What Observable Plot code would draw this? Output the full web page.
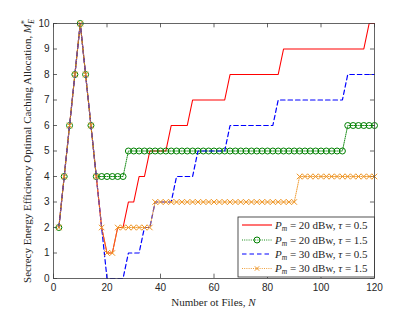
<!DOCTYPE html>
<html>
<head>
<meta charset="utf-8">
<script src="https://cdn.jsdelivr.net/npm/d3@7"></script>
<script src="https://cdn.jsdelivr.net/npm/@observablehq/plot@0.6"></script>
<style>
  html, body { margin: 0; padding: 0; background: white; }
</style>
</head>
<body>
<div id="chart"></div>
<script>
// Number of files, N
const N = [2,4,6,8,10,12,14,16,18,20,22,24,26,28,30,32,34,36,38,40,42,44,46,48,50,52,54,56,58,60,
           62,64,66,68,70,72,74,76,78,80,82,84,86,88,90,92,94,96,98,100,102,104,106,108,110,112,114,116,118,120];

// Pm = 20 dBw, tau = 0.5
const red    = [2,4,6,8,10,8,6,4, 2,1,1,2,2,3,3,4,4, 5,5,5,5, 6,6,6,6, 7,7,7,7,7,7,7,
                8,8,8,8,8,8,8,8,8,8, 9,9,9,9,9,9,9,9,9,9,9,9,9,9,9,9, 10,10];
// Pm = 20 dBw, tau = 1.5
const green  = [2,4,6,8,10,8,6, 4,4,4,4,4,4,
                5,5,5,5,5,5,5,5,5,5,5,5,5,5,5,5,5,5,5,5,5,5,5,5,5,5,5,5,5,5,5,5,5,5,5,5,5,5,5,5,5,
                6,6,6,6,6,6];
// Pm = 30 dBw, tau = 0.5
const blue   = [2,4,6,8,10,8,6,4, 2, 0,0,0,0, 1,1,1, 2,2, 3,3,3,3, 4,4,4,4, 5,5,5,5,5,5,
                6,6,6,6,6,6,6,6,6, 7,7,7,7,7,7,7,7,7,7,7,7,7, 8,8,8,8,8,8];
// Pm = 30 dBw, tau = 1.5
const orange = [2,4,6,8,10,8,6,4, 2, 1,1, 2,2,2,2,2,2,2,
                3,3,3,3,3,3,3,3,3,3,3,3,3,3,3,3,3,3,3,3,3,3,3,3,3,3,3,
                4,4,4,4,4,4,4,4,4,4,4,4,4,4,4];

const xTicks = [0,20,40,60,80,100,120];
const yTicks = [0,1,2,3,4,5,6,7,8,9,10];

const seriesColors = ["#ff0000", "#008000", "#0000ff", "#ee9422"];
const legendPower = ["20", "20", "30", "30"];
const legendTau = ["0.5", "1.5", "0.5", "1.5"];

const toRows = (vals) => N.map((n, i) => ({N: n, v: vals[i]}));
const rRed = toRows(red), rGreen = toRows(green), rBlue = toRows(blue), rOrange = toRows(orange);

const axisColor = "#404040";

const svg = Plot.plot({
  width: 415,
  height: 312,
  marginLeft: 53,
  marginRight: 41,
  marginTop: 23,
  marginBottom: 34,
  style: {fontFamily: "'Liberation Sans', Arial, sans-serif", fontSize: "10px", color: "#262626", background: "white"},
  x: {domain: [0, 120]},
  y: {domain: [0, 10]},
  marks: [
    Plot.axisX(xTicks, {tickSize: 0, tickPadding: 5, label: null, fontSize: 10}),
    Plot.axisY(yTicks, {tickSize: 0, tickPadding: 4, label: null, fontSize: 10}),
    Plot.ruleX(xTicks, {x: d => d, y1: 0, y2: 0.17, stroke: axisColor, strokeWidth: 0.8}),
    Plot.ruleX(xTicks, {x: d => d, y1: 10, y2: 9.83, stroke: axisColor, strokeWidth: 0.8}),
    Plot.ruleY(yTicks, {y: d => d, x1: 0, x2: 1.5, stroke: axisColor, strokeWidth: 0.8}),
    Plot.ruleY(yTicks, {y: d => d, x1: 120, x2: 118.5, stroke: axisColor, strokeWidth: 0.8}),
    Plot.line(rRed, {x: "N", y: "v", stroke: seriesColors[0], strokeWidth: 1.1}),
    Plot.line(rGreen, {x: "N", y: "v", stroke: seriesColors[1], strokeWidth: 0.9, strokeDasharray: "1,1.2"}),
    Plot.dot(rGreen, {x: "N", y: "v", r: 3, stroke: seriesColors[1], fill: "none", strokeWidth: 1}),
    Plot.line(rBlue, {x: "N", y: "v", stroke: seriesColors[2], strokeWidth: 1.2, strokeDasharray: "4.5,3"}),
    Plot.line(rOrange, {x: "N", y: "v", stroke: seriesColors[3], strokeWidth: 0.9, strokeDasharray: "1,1.2"}),
    Plot.dot(rOrange, {x: "N", y: "v", r: 2.6, symbol: "times", stroke: seriesColors[3], strokeWidth: 1}),
    Plot.frame({stroke: axisColor, strokeWidth: 0.8})
  ]
});

document.getElementById("chart").appendChild(svg);

const s = d3.select(svg);
const serif = "'Liberation Serif', 'DejaVu Serif', serif";

// x label
const xl = s.append("text")
  .attr("x", 213.5).attr("y", 305.5)
  .attr("text-anchor", "middle")
  .attr("font-family", serif).attr("font-size", 11).attr("fill", "#262626");
xl.append("tspan").text("Number ot Files, ");
xl.append("tspan").attr("font-style", "italic").text("N");

// y label
const yl = s.append("text")
  .attr("transform", "translate(31,151) rotate(-90)")
  .attr("text-anchor", "middle")
  .attr("font-family", serif).attr("font-size", 11).attr("fill", "#262626");
yl.append("tspan").text("Secrecy Energy Efficiency Optimal Caching Allocation, ");
yl.append("tspan").attr("font-style", "italic").text("M");
yl.append("tspan").attr("font-size", 7.5).attr("dy", -4).text("*");
yl.append("tspan").attr("font-size", 7.5).attr("font-style", "italic").attr("dx", -3.5).attr("dy", 7).text("E");

// legend
const lg = s.append("g").attr("text-anchor", "start");
const lx0 = 238, ly0 = 217, lw = 136.5, lh = 60;
lg.append("rect").attr("x", lx0).attr("y", ly0).attr("width", lw).attr("height", lh)
  .attr("fill", "white").attr("stroke", "#262626").attr("stroke-width", 0.8);
const rowY = [225, 240, 254, 268.5];
const dashes = [null, "1,1.2", "4.5,3", "1,1.2"];
const widths = [1.1, 0.9, 1.2, 0.9];
legendPower.forEach((p, i) => {
  const y = rowY[i];
  lg.append("line").attr("x1", 242).attr("x2", 272).attr("y1", y).attr("y2", y)
    .attr("stroke", seriesColors[i]).attr("stroke-width", widths[i])
    .attr("stroke-dasharray", dashes[i]);
  if (i === 1) {
    lg.append("circle").attr("cx", 257).attr("cy", y).attr("r", 3)
      .attr("fill", "none").attr("stroke", seriesColors[i]).attr("stroke-width", 1);
  }
  if (i === 3) {
    const r = 2.2;
    lg.append("path").attr("d", `M${257-r},${y-r}L${257+r},${y+r}M${257-r},${y+r}L${257+r},${y-r}`)
      .attr("stroke", seriesColors[i]).attr("stroke-width", 1);
  }
  const t = lg.append("text").attr("x", 275).attr("y", y + 3.8)
    .attr("text-anchor", "start")
    .attr("font-family", serif).attr("font-size", 11).attr("fill", "#262626");
  t.append("tspan").attr("font-style", "italic").text("P");
  t.append("tspan").attr("font-size", 7.5).attr("font-style", "italic").attr("dy", 2).text("m");
  t.append("tspan").attr("dy", -2).text(` = ${p} dBw, `);
  t.append("tspan").attr("font-style", "italic").text("\u03c4");
  t.append("tspan").text(` = ${legendTau[i]}`);
});
</script>
</body>
</html>
